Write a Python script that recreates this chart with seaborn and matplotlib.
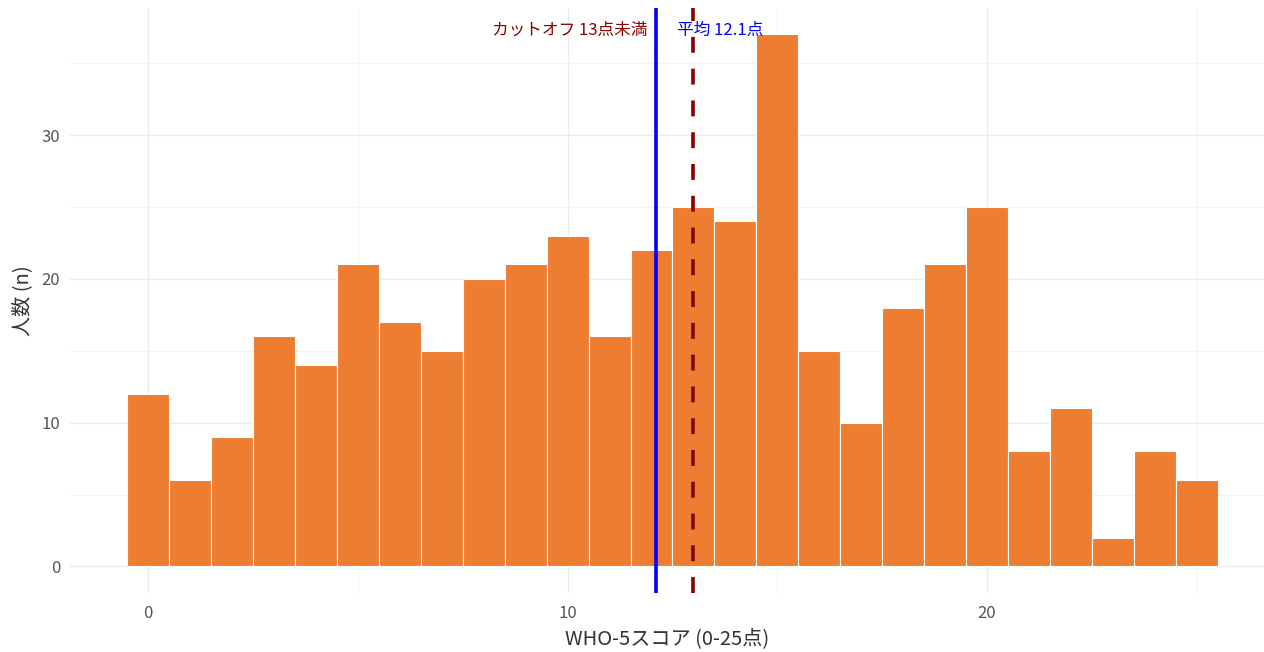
import numpy as np
import seaborn as sns
import matplotlib.pyplot as plt

# WHO-5 score distribution (counts per score 0..25)
scores = np.arange(0, 26)
counts = [12, 6, 9, 16, 14, 21, 17, 15, 20, 21, 23, 16, 22,
          25, 24, 37, 15, 10, 18, 21, 25, 8, 11, 2, 8, 6]
mean_score = 12.1
cutoff = 13

sns.set_theme(style="whitegrid")
plt.rcParams['font.family'] = ['Noto Sans CJK JP', 'DejaVu Sans']

fig = plt.figure(figsize=(12.64, 6.52), dpi=100)
ax = fig.add_axes([0.0554, 0.0905, 0.9446, 0.8975])

sns.histplot(x=scores, weights=counts, discrete=True, color="#ED7D31",
             edgecolor="white", linewidth=0.8, alpha=1, ax=ax)

ax.axvline(mean_score, color="blue", linewidth=2.6)
ax.axvline(cutoff, color="darkred", linewidth=2.6, linestyle=(0, (4.4, 4.4)))

ax.text(11.9, 37.3, "カットオフ 13点未満", color="darkred", ha="right",
        va="center", fontsize=12)
ax.text(12.6, 37.3, "平均 12.1点", color="blue", ha="left",
        va="center", fontsize=12)

ax.set_xlim(-1.86, 26.6)
ax.set_ylim(-1.85, 38.85)
ax.set_xticks([0, 10, 20])
ax.set_yticks([0, 10, 20, 30])
ax.set_xticks([5, 15, 25], minor=True)
ax.set_yticks([5, 15, 25, 35], minor=True)
ax.grid(which="major", color="#EBEBEB", linewidth=1)
ax.grid(which="minor", color="#F2F2F2", linewidth=0.8)
ax.set_axisbelow(True)
for s in ax.spines.values():
    s.set_visible(False)
ax.tick_params(which="both", length=0, labelsize=12, labelcolor="#555555")
ax.tick_params(axis="x", pad=9)
ax.tick_params(axis="y", pad=7)

ax.set_xlabel("WHO-5スコア (0-25点)", fontsize=14.5, color="#333333", labelpad=5)
ax.set_ylabel("人数 (n)", fontsize=14.5, color="#333333", labelpad=6)

fig.savefig("out.png", dpi=100)
